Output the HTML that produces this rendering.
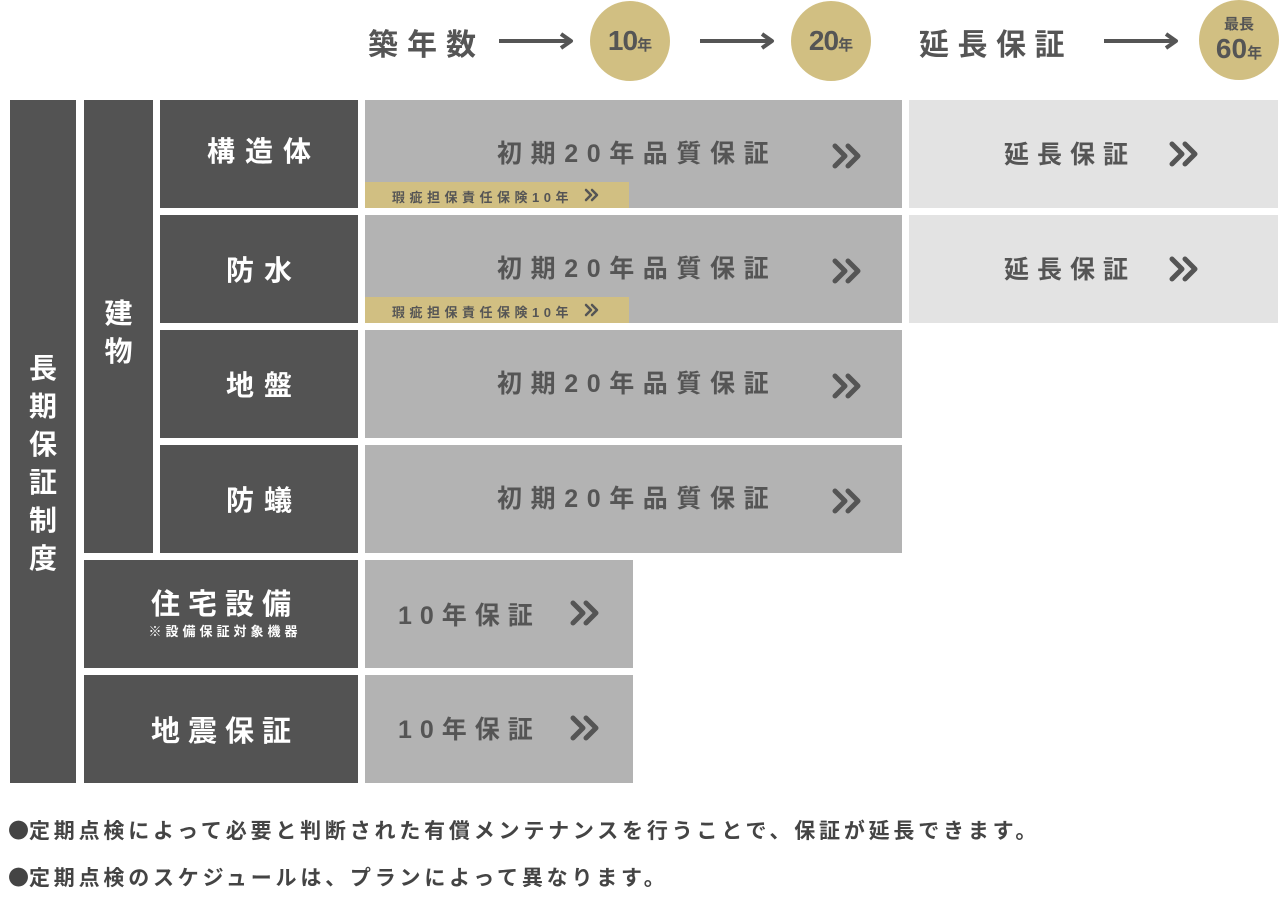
<!DOCTYPE html>
<html><head><meta charset="utf-8"><style>
body{margin:0;width:1280px;height:900px;background:#fff;position:relative;overflow:hidden;font-family:"Liberation Sans","Noto Sans CJK JP",sans-serif;font-weight:bold}
.a{position:absolute;box-sizing:border-box}
.d{background:#535353;color:#fff;display:flex;align-items:center;justify-content:center;flex-direction:column}
.g{background:#b3b3b3;color:#555}
.l{background:#e3e3e3;color:#555}
.t{position:absolute;white-space:nowrap;color:#555}
.c{position:absolute;border-radius:50%;background:#d1bf82;color:#555;display:flex;flex-direction:column;align-items:center;justify-content:center;line-height:1}
.bu{font-family:"Noto Sans CJK JP",sans-serif;letter-spacing:0}
</style></head><body>
<div class="t" style="left:368px;top:20px;font-size:30px;letter-spacing:9px">築年数</div>
<svg class="a" style="left:0;top:0" width="1280" height="90">
<defs><g id="ar"><line x1="0" y1="0" x2="70" y2="0" stroke="#555" stroke-width="4"/><polyline points="62,-7 72,0 62,7" fill="none" stroke="#555" stroke-width="4" stroke-linejoin="round"/></g></defs>
<use href="#ar" x="499" y="41"/><use href="#ar" x="700" y="41"/><use href="#ar" x="1104" y="41"/>
</svg>
<div class="c" style="left:590px;top:1px;width:80px;height:80px"><div><span style="font-size:28px;letter-spacing:-1px">10</span><span style="font-size:15px">年</span></div></div>
<div class="c" style="left:791px;top:1px;width:80px;height:80px"><div><span style="font-size:28px;letter-spacing:-1px">20</span><span style="font-size:15px">年</span></div></div>
<div class="t" style="left:919px;top:20px;font-size:30px;letter-spacing:8.5px">延長保証</div>
<div class="c" style="left:1199px;top:0px;width:80px;height:80px"><span style="font-size:15px">最長</span><span style="font-size:28px;margin-top:3px">60<span style="font-size:15px">年</span></span></div>

<div class="a d" style="left:10px;top:100px;width:66px;height:683px;font-size:28px;line-height:38px;padding-top:44px">長<br>期<br>保<br>証<br>制<br>度</div>
<div class="a d" style="left:84px;top:100px;width:69px;height:453px;font-size:28px;line-height:38px;justify-content:flex-start;padding-top:195px">建<br>物</div>
<div class="a d" style="left:160px;top:100px;width:198px;height:108px;font-size:28px;letter-spacing:10px;padding-left:10px;padding-bottom:8px">構造体</div>
<div class="a d" style="left:160px;top:215px;width:198px;height:108px;font-size:28px;letter-spacing:10px;padding-left:10px">防水</div>
<div class="a d" style="left:160px;top:330px;width:198px;height:108px;font-size:28px;letter-spacing:10px;padding-left:10px">地盤</div>
<div class="a d" style="left:160px;top:445px;width:198px;height:108px;font-size:28px;letter-spacing:10px;padding-left:10px">防蟻</div>
<div class="a d" style="left:84px;top:560px;width:274px;height:108px;font-size:29px;letter-spacing:8px;line-height:36px;padding-left:8px">住宅設備<span style="font-size:13px;letter-spacing:4px;line-height:18px">※設備保証対象機器</span></div>
<div class="a d" style="left:84px;top:675px;width:274px;height:108px;font-size:29px;letter-spacing:8px;padding-left:8px">地震保証</div>

<div class="a g" style="left:365px;top:100px;width:537px;height:108px"></div>
<div class="a g" style="left:365px;top:215px;width:537px;height:108px"></div>
<div class="a g" style="left:365px;top:330px;width:537px;height:108px"></div>
<div class="a g" style="left:365px;top:445px;width:537px;height:108px"></div>
<div class="a g" style="left:365px;top:560px;width:268px;height:108px"></div>
<div class="a g" style="left:365px;top:675px;width:268px;height:108px"></div>
<div class="a l" style="left:909px;top:100px;width:369px;height:108px"></div>
<div class="a l" style="left:909px;top:215px;width:369px;height:108px"></div>
<div class="a" style="left:365px;top:182px;width:264px;height:26px;background:#d1bf82"></div>
<div class="a" style="left:365px;top:297px;width:264px;height:26px;background:#d1bf82"></div>

<div class="t" style="left:497px;top:134px;font-size:25px;letter-spacing:8.6px">初期20年品質保証</div>
<div class="t" style="left:497px;top:249px;font-size:25px;letter-spacing:8.6px">初期20年品質保証</div>
<div class="t" style="left:497px;top:364px;font-size:25px;letter-spacing:8.6px">初期20年品質保証</div>
<div class="t" style="left:497px;top:479px;font-size:25px;letter-spacing:8.6px">初期20年品質保証</div>
<div class="t" style="left:1004px;top:135px;font-size:25px;letter-spacing:8px">延長保証</div>
<div class="t" style="left:1004px;top:250px;font-size:25px;letter-spacing:8px">延長保証</div>
<div class="t" style="left:398px;top:596px;font-size:25px;letter-spacing:8px">10年保証</div>
<div class="t" style="left:398px;top:710px;font-size:25px;letter-spacing:8px">10年保証</div>
<div class="t" style="left:392px;top:187px;font-size:13px;letter-spacing:4.5px">瑕疵担保責任保険10年</div>
<div class="t" style="left:392px;top:302px;font-size:13px;letter-spacing:4.5px">瑕疵担保責任保険10年</div>

<svg class="a" style="left:0;top:0" width="1280" height="800">
<defs>
<g id="ch"><polyline points="0,0 10,10 0,20" fill="none" stroke="#555" stroke-width="5" stroke-linecap="round" stroke-linejoin="round"/><polyline points="13,0 23,10 13,20" fill="none" stroke="#555" stroke-width="5" stroke-linecap="round" stroke-linejoin="round"/></g>
<g id="cs"><polyline points="0,0 5,5 0,10" fill="none" stroke="#555" stroke-width="2.5" stroke-linecap="round" stroke-linejoin="round"/><polyline points="6,0 11,5 6,10" fill="none" stroke="#555" stroke-width="2.5" stroke-linecap="round" stroke-linejoin="round"/></g>
</defs>
<use href="#ch" x="835" y="146"/><use href="#ch" x="835" y="261"/><use href="#ch" x="835" y="376"/><use href="#ch" x="835" y="491"/>
<use href="#ch" x="1172" y="144"/><use href="#ch" x="1172" y="259"/>
<use href="#ch" x="573" y="603"/><use href="#ch" x="573" y="718"/>
<use href="#cs" x="586" y="190"/><use href="#cs" x="586" y="305"/>
</svg>

<div class="t" style="left:8px;top:815px;font-size:21px;letter-spacing:3.8px;color:#444"><span class="bu">●</span>定期点検によって必要と判断された有償メンテナンスを行うことで、保証が延長できます。</div>
<div class="t" style="left:8px;top:862px;font-size:21px;letter-spacing:3.8px;color:#444"><span class="bu">●</span>定期点検のスケジュールは、プランによって異なります。</div>
</body></html>
